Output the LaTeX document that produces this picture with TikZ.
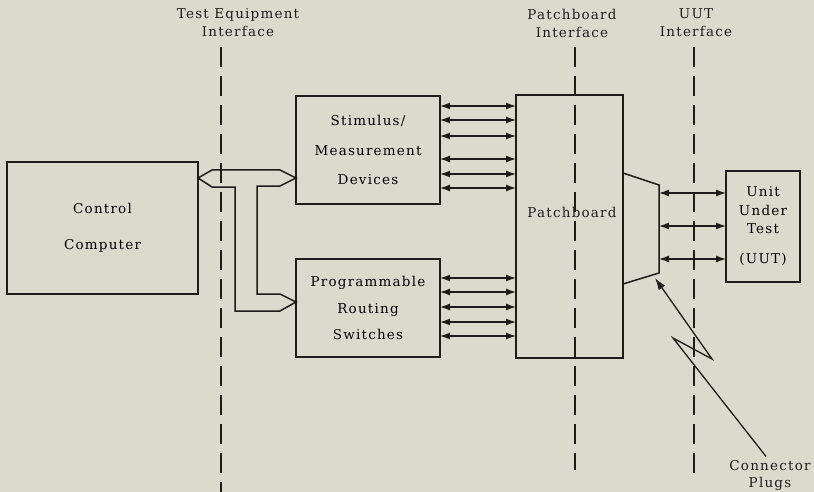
\documentclass[tikz,border=0pt]{standalone}
\usepackage{fontspec}
\setmainfont{DejaVu Serif}[LetterSpace=9]
\usetikzlibrary{arrows.meta}
\definecolor{paper}{RGB}{220,217,205}
\definecolor{ink}{RGB}{30,28,26}
\tikzset{
  box/.style={draw=ink, line width=1.5pt, align=center, outer sep=0pt, inner sep=0pt},
  biarrow/.style={draw=ink, line width=1.3pt, <->, >={Latex[length=10pt,width=7pt]}},
  iface/.style={draw=ink, line width=1.2pt, dash pattern=on 20pt off 9pt},
  lbl/.style={align=center, text=ink}
}
\begin{document}
\begin{tikzpicture}[x=1pt, y=-1pt, font=\fontsize{13.5}{15}\selectfont]
\useasboundingbox[fill=paper] (0,0) rectangle (814,492);

% interface lines
\draw[iface] (221,47) -- (221,492);
\draw[iface] (575,47) -- (575,470);
\draw[iface] (694,47) -- (694,476);
\node[lbl] at (238,23) {Test Equipment\\[3pt]Interface};
\node[lbl] at (572,23) {Patchboard\\[3pt]Interface};
\node[lbl] at (696,23) {UUT\\[3pt]Interface};

% blocks
\node[box, minimum width=191pt, minimum height=132pt] (comp) at (102.5,228) {Control\\[21pt]Computer};
\node[box, minimum width=144pt, minimum height=108pt] (stim) at (368,150) {Stimulus/\\[14.5pt]Measurement\\[14.5pt]Devices};
\node[box, minimum width=144pt, minimum height=98pt] (route) at (368,308) {Programmable\\[11.5pt]Routing\\[11.5pt]Switches};
\node[box, minimum width=107pt, minimum height=263pt] (patch) at (569.5,226.5) {};
\node[lbl] at (572,212) {Patchboard};
\node[box, minimum width=74pt, minimum height=111pt] (uut) at (763,226.5) {Unit\\[3.5pt]Under\\[3.5pt]Test\\[15pt](UUT)};

% bus from computer
\draw[ink, line width=1.5pt] (comp.east |- 0,178) -- (212,170) -- (280,170) -- (stim.west |- 0,178)
  -- (280,186) -- (257,186) -- (257,294) -- (280,294) -- (route.west |- 0,302)
  -- (280,311) -- (235,311) -- (235,187) -- (212,187) -- cycle;

% lines to patchboard
\foreach \y in {106,120,136,159,174,188}
  \draw[biarrow] (stim.east |- 0,\y) -- (patch.west |- 0,\y);
\foreach \y in {278,292,307,322,336}
  \draw[biarrow] (route.east |- 0,\y) -- (patch.west |- 0,\y);

% connector
\coordinate (trapT) at (659,185);
\coordinate (trapB) at (659,273);
\draw[ink, line width=1.5pt] (patch.east |- 0,173) -- (trapT) -- (trapB) -- (patch.east |- 0,284);
\foreach \y in {193,226,259}
  \draw[biarrow] (trapT |- 0,\y) -- (uut.west |- 0,\y);

\node[lbl] (plugs) at (770,475) {Connector\\[2pt]Plugs};
\coordinate (plugtip) at (655,278);
\draw[ink, line width=1.3pt, -{Latex[length=12pt,width=8pt]}] ([xshift=-4pt]plugs.north) -- (673,338) -- (712,359) -- (plugtip);
\end{tikzpicture}
\end{document}
